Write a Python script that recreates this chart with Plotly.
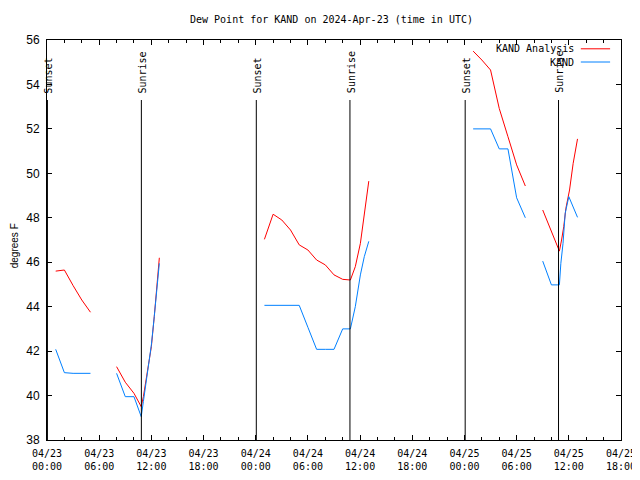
import plotly.graph_objects as go

# ---- data ----
ana_times = [
    "2024-04-23 01:00", "2024-04-23 02:00", "2024-04-23 03:00", "2024-04-23 04:00", "2024-04-23 05:00",
    "2024-04-23 06:30",
    "2024-04-23 08:00", "2024-04-23 09:00", "2024-04-23 10:00", "2024-04-23 10:50", "2024-04-23 11:05",
    "2024-04-23 11:25", "2024-04-23 11:45", "2024-04-23 12:00", "2024-04-23 12:20", "2024-04-23 12:35",
    "2024-04-23 12:55",
    "2024-04-23 18:00",
    "2024-04-24 01:00", "2024-04-24 02:00", "2024-04-24 03:00", "2024-04-24 04:00", "2024-04-24 05:00",
    "2024-04-24 06:00", "2024-04-24 07:00", "2024-04-24 08:00", "2024-04-24 09:00", "2024-04-24 10:00",
    "2024-04-24 10:53", "2024-04-24 11:27", "2024-04-24 12:02", "2024-04-24 12:29", "2024-04-24 13:00",
    "2024-04-24 18:00",
    "2024-04-25 01:00", "2024-04-25 02:00", "2024-04-25 03:00", "2024-04-25 04:00", "2024-04-25 05:00",
    "2024-04-25 06:00", "2024-04-25 07:00",
    "2024-04-25 08:00",
    "2024-04-25 09:00", "2024-04-25 10:00", "2024-04-25 10:55", "2024-04-25 11:10", "2024-04-25 11:25",
    "2024-04-25 11:40", "2024-04-25 12:05", "2024-04-25 12:30", "2024-04-25 13:00",
]
ana_vals = [
    45.6, 45.65, 44.95, 44.3, 43.75,
    None,
    41.3, 40.6, 40.1, 39.5, 39.95,
    40.7, 41.45, 42.2, 43.55, 44.75,
    46.2,
    None,
    47.03, 48.16, 47.9, 47.45, 46.78,
    46.55, 46.1, 45.88, 45.43, 45.23,
    45.2, 45.8, 46.85, 48.05, 49.65,
    None,
    55.5, 55.1, 54.65, 52.92, 51.65,
    50.38, 49.43,
    None,
    48.35, 47.39, 46.5, 47.0, 47.6,
    48.43, 49.25, 50.45, 51.55,
]

obs_times = [
    "2024-04-23 01:00", "2024-04-23 02:00", "2024-04-23 03:00", "2024-04-23 04:00", "2024-04-23 05:00",
    "2024-04-23 06:30",
    "2024-04-23 08:00", "2024-04-23 09:00", "2024-04-23 10:00", "2024-04-23 10:50", "2024-04-23 11:05",
    "2024-04-23 11:25", "2024-04-23 11:45", "2024-04-23 12:00", "2024-04-23 12:20", "2024-04-23 12:35",
    "2024-04-23 12:55",
    "2024-04-23 18:00",
    "2024-04-24 01:00", "2024-04-24 02:00", "2024-04-24 03:00", "2024-04-24 04:00", "2024-04-24 05:00",
    "2024-04-24 06:00", "2024-04-24 07:00", "2024-04-24 08:00", "2024-04-24 09:00", "2024-04-24 10:00",
    "2024-04-24 10:53", "2024-04-24 11:27", "2024-04-24 12:02", "2024-04-24 12:29", "2024-04-24 13:00",
    "2024-04-24 18:00",
    "2024-04-25 01:00", "2024-04-25 02:00", "2024-04-25 03:00", "2024-04-25 04:00", "2024-04-25 05:00",
    "2024-04-25 06:00", "2024-04-25 07:00",
    "2024-04-25 08:00",
    "2024-04-25 09:00", "2024-04-25 10:00", "2024-04-25 10:55", "2024-04-25 11:05", "2024-04-25 11:20",
    "2024-04-25 11:35", "2024-04-25 12:00", "2024-04-25 13:00",
]
obs_vals = [
    42.08, 41.03, 41.0, 41.0, 41.0,
    None,
    41.0, 39.95, 39.95, 39.05, 39.73,
    40.7, 41.6, 42.28, 43.55, 44.68,
    45.95,
    None,
    44.06, 44.06, 44.06, 44.06, 44.06,
    43.07, 42.08, 42.08, 42.08, 43.0,
    43.0, 44.0, 45.43, 46.25, 46.94,
    None,
    52.0, 52.0, 52.0, 51.1, 51.1,
    48.9, 48.0,
    None,
    46.05, 44.98, 44.98, 45.95, 46.85,
    48.2, 48.95, 48.02,
]

event_times = ["2024-04-23 00:03", "2024-04-23 10:51", "2024-04-24 00:04",
               "2024-04-24 10:50", "2024-04-25 00:05", "2024-04-25 10:49"]
event_labels = ["Sunset", "Sunrise", "Sunset", "Sunrise", "Sunset", "Sunrise"]

series_names = ["KAND Analysis", "KAND"]
series_colors = ["#ff0000", "#0080ff"]

x_range = ["2024-04-23 00:00", "2024-04-25 18:00"]
y_range = [38, 56]

MONO = "DejaVu Sans Mono"
SANS = "Liberation Sans"

fig = go.Figure()
fig.add_trace(go.Scatter(x=ana_times, y=ana_vals, mode="lines", name=series_names[0],
                         line=dict(color=series_colors[0], width=1), connectgaps=False,
                         showlegend=False))
fig.add_trace(go.Scatter(x=obs_times, y=obs_vals, mode="lines", name=series_names[1],
                         line=dict(color=series_colors[1], width=1), connectgaps=False,
                         showlegend=False))

shapes = []
annotations = []
for t, lab in zip(event_times, event_labels):
    shapes.append(dict(type="line", xref="x", yref="paper", x0=t, x1=t, y0=0, y1=0.85,
                       line=dict(color="black", width=1)))
    annotations.append(dict(x=t, y=0.862, xref="x", yref="paper", text=lab, showarrow=False,
                            textangle=-90, xanchor="center", yanchor="bottom", xshift=1,
                            font=dict(family=MONO, size=10, color="black")))

# legend (gnuplot style: text then sample line)
leg_y = [0.978, 0.945]
for name, col, yy in zip(series_names, series_colors, leg_y):
    annotations.append(dict(x=0.922, y=yy, xref="paper", yref="paper", text=name, showarrow=False,
                            xanchor="right", yanchor="middle",
                            font=dict(family=MONO, size=10, color="black")))
    shapes.append(dict(type="line", xref="paper", yref="paper", x0=0.930, x1=0.981, y0=yy, y1=yy,
                       line=dict(color=col, width=1)))

annotations.append(dict(x=-0.057, y=0.485, xref="paper", yref="paper", text="degrees F",
                        showarrow=False, textangle=-90, xanchor="center", yanchor="middle",
                        font=dict(family=SANS, size=10, color="black")))

annotations.append(dict(x=0.496, y=1.05, xref="paper", yref="paper",
                        text="Dew Point for KAND on 2024-Apr-23 (time in UTC)",
                        showarrow=False, xanchor="center", yanchor="middle",
                        font=dict(family=MONO, size=10, color="black")))

# the page body has an 8px margin, so the figure is sized to end at the window edge
fig.update_layout(
    width=632, height=472,
    margin=dict(l=39, r=19, t=32, b=40, autoexpand=False),
    paper_bgcolor="white", plot_bgcolor="white",
    shapes=shapes, annotations=annotations,
    xaxis=dict(type="date", range=x_range, tick0="2024-04-23 00:00", dtick=6 * 3600 * 1000,
               tickformat="%m/%d<br>%H:%M", ticks="inside", ticklen=5, tickcolor="black",
               showline=True, linecolor="black", linewidth=1, mirror="allticks",
               showgrid=False, zeroline=False, automargin=False, ticklabelstandoff=4,
               tickfont=dict(family=MONO, size=10, color="black"),
               minor=dict(dtick=2 * 3600 * 1000, ticks="inside", ticklen=3, tickcolor="black",
                          showgrid=False)),
    yaxis=dict(range=y_range, dtick=2, ticks="inside", ticklen=5, tickcolor="black",
               showline=True, linecolor="black", linewidth=1, mirror="allticks",
               showgrid=False, zeroline=False, automargin=False, ticklabelstandoff=4,
               tickfont=dict(family=SANS, size=12, color="black")),
)

fig.write_html("out.html")
